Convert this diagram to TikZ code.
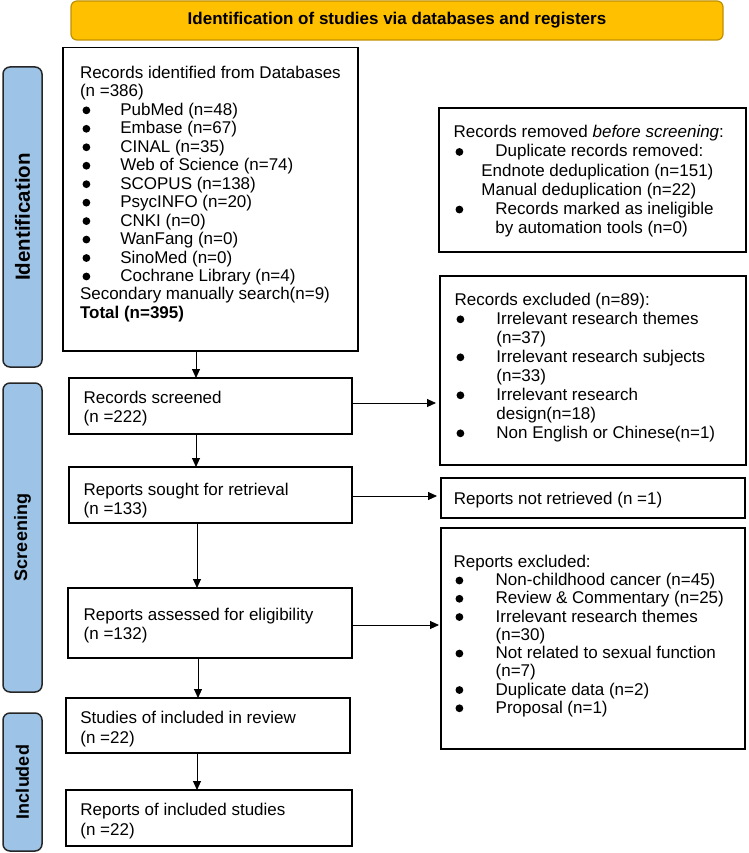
\documentclass[tikz,border=0pt]{standalone}
\usepackage{fontspec}
\setmainfont{Liberation Sans}
\usetikzlibrary{arrows.meta}
\definecolor{gold}{HTML}{FFC000}
\definecolor{goldline}{HTML}{BF9000}
\definecolor{sidefill}{HTML}{9DC3E6}
\definecolor{sideline}{HTML}{262626}
\newcommand\fs[1]{\fontsize{17}{#1}\selectfont}
\newcommand\bul{\tikz[baseline=-5pt]\fill[black] (0,0) circle [radius=3.9pt];}
\newcommand\Ba{\makebox[40.3pt][l]{\hspace{2.5pt}\bul}}
\newcommand\Bb{\makebox[41.7pt][l]{\hspace{1.8pt}\bul}}
\newcommand\Bc{\makebox[42pt][l]{\hspace{1.8pt}\bul}}
\newcommand\mkbox[5]{\node[box, minimum width={#4-#2}, minimum height={#5-#3}] (#1) at ({(#2+#4)/2},{(#3+#5)/2}) {};}
\begin{document}
\begin{tikzpicture}[x=1pt,y=-1pt,
  box/.style={draw=black, line width=1.5pt, fill=white, inner sep=0pt, outer sep=0pt},
  sidebox/.style={draw=sideline, line width=1.5pt, fill=sidefill, rounded corners=7pt, inner sep=0pt, outer sep=0pt, rotate=90, font=\fontsize{18}{20}\selectfont\bfseries},
  banner/.style={draw=goldline, line width=1.2pt, fill=gold, rounded corners=6pt, inner sep=0pt, font=\fontsize{17}{20}\selectfont\bfseries},
  txt/.style={anchor=north west, inner sep=0pt, outer sep=0pt, align=left},
  arr/.style={draw=black, line width=0.9pt, -{Triangle[length=9pt,width=8pt]}},
]
\useasboundingbox (0,0) rectangle (748,853);

% banner
\node[banner, minimum width=652, minimum height=39] (ban) at (397,20.5) {Identification of studies via databases and registers};

% side labels
\node[sidebox, minimum width=300, minimum height=39, font=\fontsize{20.5}{22}\selectfont\bfseries] (sid) at (22.5,217) {Identification};
\node[sidebox, minimum width=309, minimum height=39] (sscr) at (22.5,537.5) {Screening};
\node[sidebox, minimum width=138, minimum height=39] (sinc) at (22.5,782) {Included};

% boxes
\mkbox{b1}{63}{47.5}{358}{351}
\mkbox{scr}{69}{378}{352}{434}
\mkbox{sou}{69}{467}{352}{523}
\mkbox{ass}{68}{588}{352}{658}
\mkbox{stu}{66}{698}{350}{753}
\mkbox{rep}{66}{790}{352}{846}
\mkbox{rem}{439}{108}{746}{252}
\mkbox{exc}{440}{276}{746}{465}
\mkbox{nr}{441}{478}{745}{518}
\mkbox{rexc}{441}{528}{745}{749}

% texts
\node[txt, font=\fs{18.46}] (t1) at (80,65.5) {\strut Records identified from Databases\\
(n =386)\\
\Ba PubMed (n=48)\\
\Ba Embase (n=67)\\
\Ba CINAL (n=35)\\
\Ba Web of Science (n=74)\\
\Ba SCOPUS (n=138)\\
\Ba PsycINFO (n=20)\\
\Ba CNKI (n=0)\\
\Ba WanFang (n=0)\\
\Ba SinoMed (n=0)\\
\Ba Cochrane Library (n=4)\\
Secondary manually search(n=9)\\
\textbf{Total (n=395)}};

\node[txt, font=\fs{19.2}] (trem) at (453.7,124.3) {\strut Records removed \textit{before screening}:\\
\Bb Duplicate records removed:\\
\hspace*{27.7pt}Endnote deduplication (n=151)\\
\hspace*{27.7pt}Manual deduplication (n=22)\\
\Bb Records marked as ineligible\\
\hspace*{41.7pt}by automation tools (n=0)};

\node[txt, font=\fs{19}] (texc) at (454.7,292) {\strut Records excluded (n=89):\\
\Bb Irrelevant research themes\\
\hspace*{41.7pt}(n=37)\\
\Bb Irrelevant research subjects\\
\hspace*{41.7pt}(n=33)\\
\Bb Irrelevant research\\
\hspace*{41.7pt}design(n=18)\\
\Bb Non English or Chinese(n=1)};

\node[anchor=base west, inner sep=0pt, font=\fs{18.4}] (tnr) at (453.7,504) {Reports not retrieved (n =1)};

\node[txt, font=\fs{18.25}] (trexc) at (453.7,554.5) {\strut Reports excluded:\\
\Bc Non-childhood cancer (n=45)\\
\Bc Review \& Commentary (n=25)\\
\Bc Irrelevant research themes\\
\hspace*{42pt}(n=30)\\
\Bc Not related to sexual function\\
\hspace*{42pt}(n=7)\\
\Bc Duplicate data (n=2)\\
\Bc Proposal (n=1)};

\node[txt, font=\fs{18.6}] (tscr) at (83.7,390.4) {\strut Records screened\\(n =222)};
\node[txt, font=\fs{18.8}] (tsou) at (83.7,482.5) {\strut Reports sought for retrieval\\(n =133)};
\node[txt, font=\fs{19}] (tass) at (83.7,607.5) {\strut Reports assessed for eligibility\\(n =132)};
\node[txt, font=\fs{19.5}] (tstu) at (80.4,710) {\strut Studies of included in review\\(n =22)};
\node[txt, font=\fs{20}] (trep) at (80.4,801.2) {\strut Reports of included studies\\(n =22)};

% connectors
\coordinate (ax1) at (196,0);
\coordinate (ax2) at (197,0);
\coordinate (ax3) at (198,0);
\draw[arr] (b1.south -| ax1) -- (scr.north -| ax1);
\draw[arr] (scr.south -| ax1) -- (sou.north -| ax1);
\draw[arr] (sou.south -| ax2) -- (ass.north -| ax2);
\draw[arr] (ass.south -| ax3) -- (stu.north -| ax3);
\draw[arr] (stu.south -| ax2) -- (rep.north -| ax2);

\coordinate (ay1) at (0,403);
\coordinate (ay2) at (0,496);
\coordinate (ay3) at (0,625);
\draw[arr, shorten >=4pt] (scr.east |- ay1) -- (exc.west |- ay1);
\draw[arr, shorten >=4pt] (sou.east |- ay2) -- (nr.west |- ay2);
\draw[arr, shorten >=2pt] (ass.east |- ay3) -- (rexc.west |- ay3);
\end{tikzpicture}
\end{document}
